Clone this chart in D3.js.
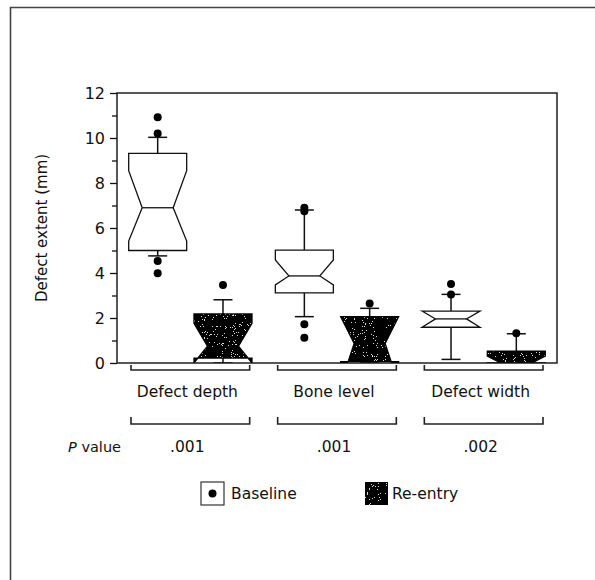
<!DOCTYPE html>
<html>
<head>
<meta charset="utf-8">
<script src="https://cdn.jsdelivr.net/npm/d3@7"></script>
<style>
  html, body { margin: 0; padding: 0; background: #fff; }
  svg text { font-family: "DejaVu Sans", sans-serif; fill: #111; }
</style>
</head>
<body>
<svg id="chart" width="595" height="580"></svg>
<script>
// Defect measurements before and after treatment
const groups = ["Defect depth", "Bone level", "Defect width"];
const series = ["Baseline", "Re-entry"];
const pValues = [".001", ".001", ".002"];
const yMajorTicks = [0, 2, 4, 6, 8, 10, 12];
const yMinorTicks = [1, 3, 5, 7, 9, 11];

// [whiskerLow, q1, notchLow, median, notchHigh, q3, whiskerHigh]
const baselineBoxes = [
  [4.76, 5.00, 5.42, 6.90, 8.55, 9.32, 10.03],
  [2.06, 3.12, 3.47, 3.87, 4.58, 5.02, 6.80],
  [0.16, 1.59, 1.59, 1.96, 2.31, 2.31, 3.05]
];
const baselineOutliers = [
  [10.92, 10.20, 4.53, 3.99],
  [6.90, 6.75, 1.72, 1.12],
  [3.51, 3.05]
];
const reentryBoxes = [
  [0.00, 0.22, 0.00, 0.75, 1.76, 2.18, 2.81],
  [0.00, 0.06, -0.95, 0.87, 2.06, 2.06, 2.43],
  [0.00, 0.00, -0.31, 0.00, 0.31, 0.53, 1.30]
];
const reentryOutliers = [
  [3.47],
  [2.65],
  [1.32]
];

const svg = d3.select("#chart");
const plot = { left: 117, right: 557, top: 93, bottom: 363 };
const boxWidth = 58, notchInset = 13.5, capWidth = 19, dotR = 4;
const fontSize = 15.5;

const defs = svg.append("defs");
defs.append("clipPath").attr("id", "plot-clip")
  .append("rect")
  .attr("x", plot.left).attr("y", plot.top)
  .attr("width", plot.right - plot.left).attr("height", plot.bottom - plot.top);

// stippled texture: sparse white speckles on black
const f = defs.append("filter").attr("id", "speckle")
  .attr("x", 0).attr("y", 0).attr("width", 1).attr("height", 1);
f.append("feTurbulence").attr("type", "fractalNoise")
  .attr("baseFrequency", 1.1).attr("numOctaves", 2).attr("seed", 7).attr("result", "noise");
f.append("feColorMatrix").attr("in", "noise").attr("type", "matrix")
  .attr("values", "0 0 0 0 1  0 0 0 0 1  0 0 0 0 1  1.6 0 0 0 -0.3").attr("result", "wn");
const ct = f.append("feComponentTransfer").attr("in", "wn").attr("result", "sp");
ct.append("feFuncA").attr("type", "discrete")
  .attr("tableValues", "0 0 0 0 0 0 0 0 0.85 0.85");
f.append("feComposite").attr("in", "sp").attr("in2", "SourceGraphic").attr("operator", "in");

// outer frame
svg.append("path").attr("d", "M10.5,580 V7.5 H595")
  .attr("fill", "none").attr("stroke", "#444").attr("stroke-width", 1.6);

const y = d3.scaleLinear().domain([0, 12]).range([plot.bottom, plot.top]);
const x = d3.scaleBand().domain(groups).range([plot.left, plot.right]).padding(0);
const xs = d3.scalePoint().domain(series).range([0, x.bandwidth()]).padding(0.623);

// y axis with major and minor ticks
const axis = svg.append("g").attr("transform", `translate(${plot.left},0)`);
axis.call(d3.axisLeft(y).tickValues(yMajorTicks).tickSize(7).tickPadding(5).tickSizeOuter(0))
  .call(g => g.select(".domain").remove())
  .call(g => g.selectAll("line").attr("stroke", "#111").attr("stroke-width", 1.3))
  .call(g => g.selectAll("text").attr("font-size", 16).attr("font-family", "DejaVu Sans")
    .attr("fill", "#111"));
axis.append("g").call(d3.axisLeft(y).tickValues(yMinorTicks).tickSize(5).tickFormat(""))
  .call(g => g.select(".domain").remove())
  .call(g => g.selectAll("line").attr("stroke", "#111").attr("stroke-width", 1.3));

svg.append("text")
  .attr("transform", `translate(47,${(plot.top + plot.bottom) / 2}) rotate(-90)`)
  .attr("text-anchor", "middle").attr("font-size", 15)
  .text("Defect extent (mm)");

// notched box outline, clipped to the hinges
function boxPath(cx, b) {
  const [lo, q1, nLo, med, nHi, q3] = b;
  const L = cx - boxWidth / 2, R = cx + boxWidth / 2;
  const pts = [
    [L, q3], [L, nHi], [L + notchInset, med], [L, nLo], [L, q1],
    [R, q1], [R, nLo], [R - notchInset, med], [R, nHi], [R, q3]
  ];
  return d3.line().x(d => d[0]).y(d => y(d[1]))(pts) + "Z";
}

const marks = svg.append("g").attr("clip-path", "url(#plot-clip)");
const allBoxes = [baselineBoxes, reentryBoxes];
const allOutliers = [baselineOutliers, reentryOutliers];

series.forEach((s, si) => {
  groups.forEach((gname, gi) => {
    const b = allBoxes[si][gi];
    const cx = x(gname) + xs(s);
    const [lo, q1, nLo, med, nHi, q3, hi] = b;
    const g = marks.append("g");
    // whiskers
    [[q3, hi], [q1, lo]].forEach(([a, e]) => {
      if (Math.abs(a - e) < 1e-9) return;
      g.append("line").attr("x1", cx).attr("x2", cx).attr("y1", y(a)).attr("y2", y(e))
        .attr("stroke", "#111").attr("stroke-width", 1.5);
      g.append("line").attr("x1", cx - capWidth / 2).attr("x2", cx + capWidth / 2)
        .attr("y1", y(e)).attr("y2", y(e))
        .attr("stroke", "#111").attr("stroke-width", 1.5);
    });
    const d = boxPath(cx, b);
    if (si === 0) {
      g.append("path").attr("d", d).attr("fill", "#fff")
        .attr("stroke", "#111").attr("stroke-width", 1.3).attr("stroke-linejoin", "miter");
      g.append("line")
        .attr("x1", cx - boxWidth / 2 + notchInset).attr("x2", cx + boxWidth / 2 - notchInset)
        .attr("y1", y(med)).attr("y2", y(med))
        .attr("stroke", "#111").attr("stroke-width", 1.3);
    } else {
      g.append("path").attr("d", d).attr("fill", "#000");
      g.append("path").attr("d", d).attr("fill", "#fff").attr("filter", "url(#speckle)");
      g.append("path").attr("d", d).attr("fill", "none")
        .attr("stroke", "#000").attr("stroke-width", 1.3);
    }
    g.selectAll("circle.out").data(allOutliers[si][gi]).join("circle")
      .attr("class", "out").attr("cx", cx).attr("cy", v => y(v)).attr("r", dotR)
      .attr("fill", "#000");
  });
});

// plot frame
svg.append("rect")
  .attr("x", plot.left).attr("y", plot.top)
  .attr("width", plot.right - plot.left).attr("height", plot.bottom - plot.top)
  .attr("fill", "none").attr("stroke", "#111").attr("stroke-width", 1.4);

// group brackets, labels and P values
const bracketInset = 14;
function bracket(gname, yLine, tick) {
  const a = x(gname) + bracketInset, b = x(gname) + x.bandwidth() - bracketInset;
  svg.append("path")
    .attr("d", `M${a},${yLine - tick} V${yLine} H${b} V${yLine - tick}`)
    .attr("fill", "none").attr("stroke", "#222").attr("stroke-width", 1.6);
}
groups.forEach((gname, gi) => {
  const c = x(gname) + x.bandwidth() / 2;
  bracket(gname, 370, 5);
  svg.append("text").attr("x", c - 3).attr("y", 397).attr("text-anchor", "middle")
    .attr("font-size", fontSize).text(gname);
  bracket(gname, 424, 7);
  svg.append("text").attr("x", c - 3).attr("y", 452).attr("text-anchor", "middle")
    .attr("font-size", fontSize).text(pValues[gi]);
});
const pLabel = svg.append("text").attr("x", 121).attr("y", 452)
  .attr("text-anchor", "end").attr("font-size", 14.5);
pLabel.append("tspan").attr("font-style", "italic").text("P");
pLabel.append("tspan").text(" value");

// legend
const legend = svg.append("g");
const legendX = [201, 365];
series.forEach((s, si) => {
  const lg = legend.append("g").attr("transform", `translate(${legendX[si]},482)`);
  if (si === 0) {
    lg.append("rect").attr("width", 23).attr("height", 23)
      .attr("fill", "#fff").attr("stroke", "#333").attr("stroke-width", 1.2);
    lg.append("circle").attr("cx", 11.5).attr("cy", 11.5).attr("r", dotR).attr("fill", "#000");
  } else {
    lg.append("rect").attr("width", 23).attr("height", 23).attr("fill", "#000");
    lg.append("rect").attr("width", 23).attr("height", 23).attr("fill", "#fff")
      .attr("filter", "url(#speckle)");
  }
  lg.append("text").attr("x", si === 0 ? 30 : 27).attr("y", 17).attr("font-size", fontSize).text(s);
});
</script>
</body>
</html>
